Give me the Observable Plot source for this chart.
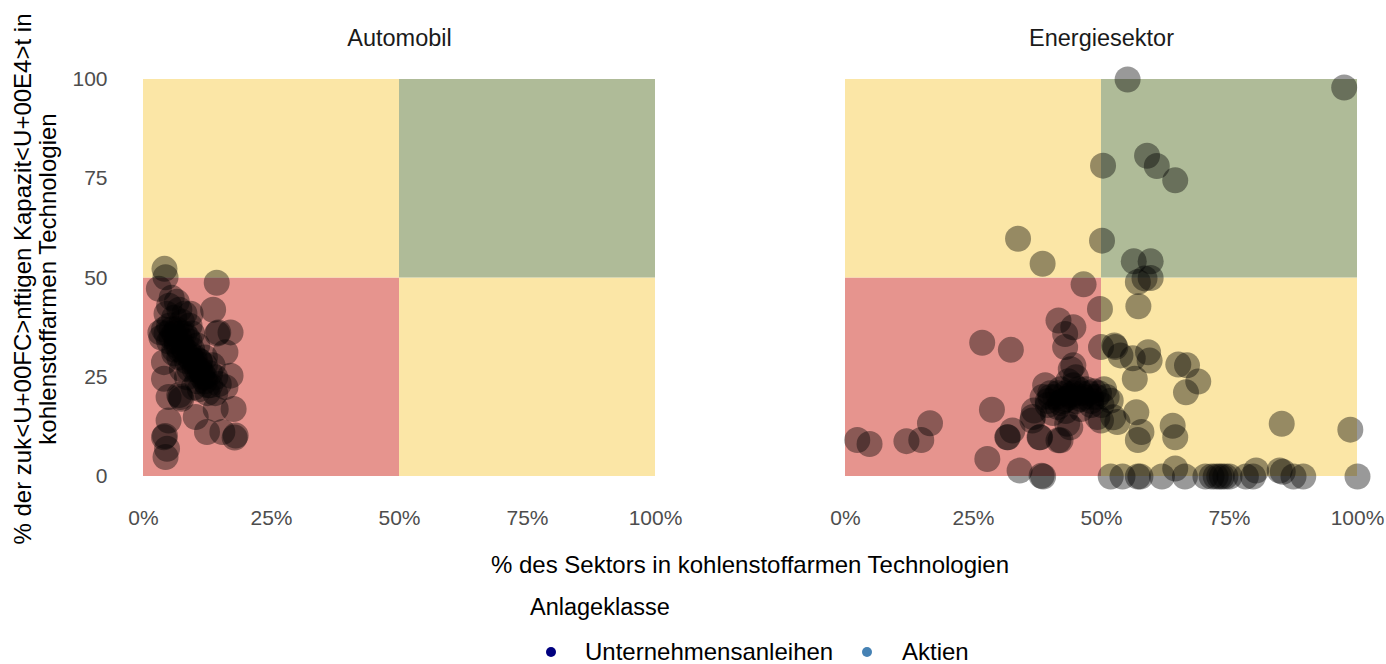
<!DOCTYPE html>
<html>
<head>
<meta charset="utf-8">
<script src="https://cdn.jsdelivr.net/npm/d3@7"></script>
<script src="https://cdn.jsdelivr.net/npm/@observablehq/plot@0.6"></script>
<style>
  body { margin: 0; background: #fff; font-family: "Liberation Sans", Arial, sans-serif; }
  #wrap { position: relative; width: 1386px; height: 664px; overflow: hidden; }
  #legend { position: relative; width: 1386px; height: 79px; color: #000; }
  #legend .t { position: absolute; left: 530px; top: 10px; font-size: 23.5px; line-height: 24px; white-space: nowrap; }
  #legend .lab { position: absolute; top: 55px; font-size: 24px; line-height: 24px; white-space: nowrap; }
  #legend .dot { position: absolute; top: 62px; width: 10px; height: 10px; border-radius: 50%; }
</style>
</head>
<body>
<div id="wrap">
  <div id="chart"></div>
  <div id="legend"></div>
</div>
<script>
// ---- data ----
const sectors = ["Automobil", "Energiesektor"];
const xTicks = [0, 25, 50, 75, 100];
const yTicks = [0, 25, 50, 75, 100];
const xLabel = "% des Sektors in kohlenstoffarmen Technologien";
const yLabelLines = ["% der zuk<U+00FC>nftigen Kapazit<U+00E4>t in", "kohlenstoffarmen Technologien"];
const legendTitle = "Anlageklasse";
const legendClasses = ["Unternehmensanleihen", "Aktien"];
const legendColors = ["#00007F", "#4682B4"];

// quadrant thresholds
const quadX1 = [0, 0, 50, 50];
const quadX2 = [50, 50, 100, 100];
const quadY1 = [0, 50, 0, 50];
const quadY2 = [50, 100, 50, 100];
const quadClass = ["rot", "gelb", "gelb", "gruen"];
const quadColorDomain = ["rot", "gelb", "gruen"];
const quadColorRange = ["#E6948E", "#FBE6A6", "#AFBB98"];

// Automobil
const autoX = [4.1, 4.3, 14.3, 3.0, 13.6, 14.6, 17, 3.3, 16, 4, 4, 17, 7.2, 7.4, 14.7, 4.9, 16, 17.6, 14.1, 10.2, 4.9, 12.4, 15.4, 18, 17.8, 4, 4.2, 4.6, 4.3, 9.2, 14.4, 7,
  5.5, 6.5, 7, 8, 6, 7.5, 9, 5, 4, 6, 7, 8, 9, 5, 6.5, 8, 9.5, 10, 7, 8.5, 11, 12, 10, 11.5, 13, 12, 13, 14, 10.5, 11, 12.5, 9, 6, 3.5, 4.5, 5, 9.5, 10.5, 13.5, 7.5, 8.5, 12, 9.8, 11, 14,
  5.5, 6.5, 7.5, 8.5, 4.5, 5.5, 6.5, 7.5, 9, 10, 11, 12, 9.5, 10.5, 11.5, 12.5, 8, 9, 6, 7];
const autoY = [52.3, 50.2, 48.8, 47.3, 42, 36.3, 36.3, 36.3, 31.3, 28.8, 24.6, 25.4, 20, 19.6, 23.3, 20, 22.5, 17, 17, 15, 14.1, 11.2, 11.2, 10.3, 9.8, 9.9, 10.2, 7, 4.9, 41, 36, 20.5,
  45, 44, 42, 41, 40, 39, 38, 38, 37, 36, 35, 36, 34, 34, 33, 32, 32, 30, 30, 29, 29, 28, 27, 26, 26, 24, 23, 25, 24, 22, 21, 27, 31, 35, 41, 43, 36, 33, 28, 27, 25, 30, 22.4, 29, 21,
  37, 37, 36, 35, 36, 35, 34, 33, 31, 29, 27, 25, 29, 27, 25, 23, 31, 30, 32, 32];

// Energiesektor
const energyX = [55.1, 97.4, 58.9, 60.8, 64.4, 50.3, 33.7, 38.5, 50.1, 56.3, 59.6, 58.4, 57.1, 59.6, 46.5, 49.7, 57.2, 41.6, 44.5, 42.9, 42.9, 26.7, 32.3, 49.9, 52.5, 56.1, 59.1, 59.4, 65, 66.7, 68.9, 66.5, 56.5, 44.5, 28.6, 16.5, 14.8, 11.9, 2.3, 4.7, 27.7, 34, 38.3, 38.6, 32.6, 31.7, 37.9, 36.6, 41.6, 43.9, 49.9, 53.1, 56.8, 57.1, 57.8, 63.9, 64.4, 85.2, 98.6,
  51.8, 54.1, 57.1, 57.6, 61.8, 64.4, 66.3, 70.3, 71.5, 72.3, 73, 73.5, 74.2, 75, 78.2, 80.2, 79.6, 84.8, 85.4, 87.5, 89.4, 100,
  52.7, 53.7, 51.8, 52.3, 36.8, 36.5, 38, 43.3, 42, 49.2, 31.6,
  38.5, 39.5, 40, 41, 42, 42.5, 43, 44, 44.5, 45, 46, 46.5, 47, 48, 48.5, 49.5, 50.5, 51, 45, 43.5, 44, 41.5, 43, 46, 48, 39, 40.5, 50,
  40, 41.5, 43, 44.5, 46, 47.5, 49, 42, 45.5, 48, 39.5, 44];
const energyY = [100, 98, 80.8, 78.2, 74.6, 78.3, 59.9, 53.6, 59.4, 54.2, 54.2, 49.9, 49, 50, 48.4, 42.2, 42.9, 39.3, 37.6, 35.9, 32.6, 33.7, 31.9, 32.6, 33, 29.8, 31.3, 29.2, 28.2, 28, 23.9, 21.2, 24.6, 28, 16.8, 13.4, 9.2, 8.9, 9.2, 8.2, 4.4, 1.5, 0.2, 0, 11.6, 9.9, 9.9, 15, 9.1, 12.4, 14.1, 13.7, 16.2, 9.2, 11.2, 12.8, 9.9, 13.3, 11.8,
  0, 0, 0, 0, 0, 2, 0, 0, 0, 0, 0, 0, 0, 0, 0, 1.5, 0, 1.5, 1.2, 0, 0, 0,
  32.6, 30.5, 19.1, 14.9, 16.6, 14.1, 9.9, 13.3, 9.1, 15, 9.9,
  20, 19, 21, 20, 22, 19, 21, 20, 23, 19, 21, 20, 22, 20, 21.5, 21, 22, 20, 25, 24, 27, 17.5, 16.5, 17, 18, 23, 16, 18,
  20, 21, 19.5, 21, 19.5, 21, 20, 18.5, 22, 19, 18, 20.5];

// ---- tables built from the arrays ----
const quads = quadX1.map((d, i) => ({x1: d, x2: quadX2[i], y1: quadY1[i], y2: quadY2[i], q: quadClass[i]}));
const points = [
  ...autoX.map((x, i) => ({sector: sectors[0], x, y: autoY[i]})),
  ...energyX.map((x, i) => ({sector: sectors[1], x, y: energyY[i]}))
];

const W = 1386, H = 585;
const chart = Plot.plot({
  width: W,
  height: H,
  marginLeft: 143,
  marginRight: 29,
  marginTop: 79,
  marginBottom: H - 476,
  style: {fontFamily: '"Liberation Sans", Arial, sans-serif', fontSize: "21px", color: "#4D4D4D", background: "white", overflow: "visible"},
  fx: {domain: sectors, paddingInner: 0.2707, paddingOuter: 0, axis: null, label: null},
  x: {domain: [0, 100], ticks: xTicks, tickFormat: d => d + "%", tickSize: 0, tickPadding: 34, label: null},
  y: {domain: [0, 100], ticks: yTicks, tickSize: 0, tickPadding: 36, label: null},
  color: {domain: quadColorDomain, range: quadColorRange},
  marks: [
    Plot.rect(quads, {x1: "x1", x2: "x2", y1: "y1", y2: "y2", fill: "q"}),
    Plot.dot(points, {x: "x", y: "y", fx: "sector", r: 13, fill: "black", fillOpacity: 0.4, stroke: null}),
    Plot.text(sectors, {fx: d => d, text: d => d, frameAnchor: "top", lineAnchor: "middle", dy: -41.5, fontSize: 23.5, fill: "#1A1A1A"})
  ]
});
document.getElementById("chart").appendChild(chart);

// axis titles
const svg = d3.select(chart);
svg.append("text")
  .attr("x", 750).attr("y", 573)
  .attr("text-anchor", "middle")
  .attr("fill", "#000").attr("font-size", 24)
  .attr("font-family", '"Liberation Sans", Arial, sans-serif')
  .text(xLabel);
const yl = svg.append("text")
  .attr("transform", "rotate(-90)")
  .attr("text-anchor", "middle")
  .attr("fill", "#000").attr("font-size", 24)
  .attr("font-family", '"Liberation Sans", Arial, sans-serif');
yLabelLines.forEach((t, i) => {
  yl.append("tspan").attr("x", -279).attr("y", 31 + i * 25).text(t);
});

// legend
const lg = d3.select("#legend");
lg.append("div").attr("class", "t").text(legendTitle);
const dotX = [546, 862];
const labX = [585, 902];
legendClasses.forEach((c, i) => {
  lg.append("div").attr("class", "dot").style("left", dotX[i] + "px").style("background", legendColors[i]);
  lg.append("div").attr("class", "lab").style("left", labX[i] + "px").text(c);
});
</script>
</body>
</html>
